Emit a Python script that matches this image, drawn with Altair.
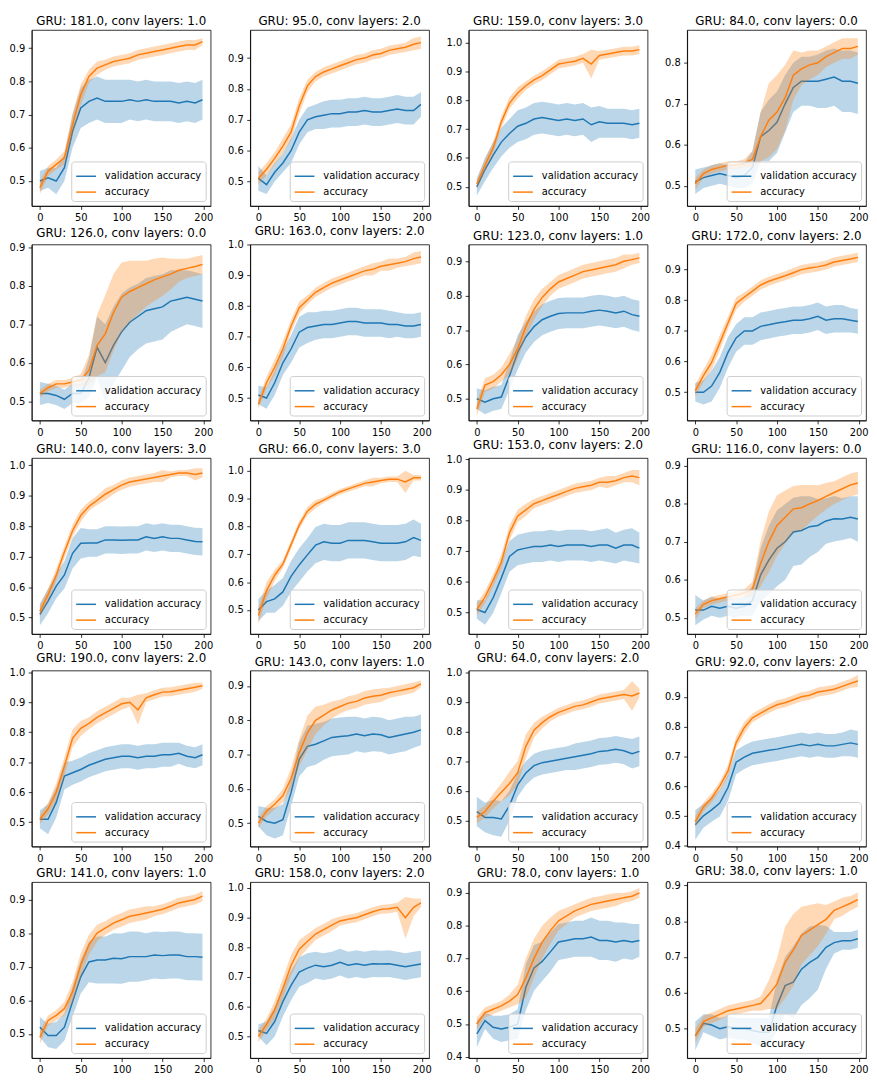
import altair as alt
import pandas as pd

EPOCHS = [0, 10, 20, 30, 40, 50, 60, 70, 80, 90, 100, 110, 120, 130, 140, 150, 160, 170, 180, 190, 199]
SERIES = ["validation accuracy", "accuracy"]
COLORS = ["#1f77b4", "#ff7f0e"]
X_TICKS = [0, 50, 100, 150, 200]

TITLES = [
    "GRU: 181.0, conv layers: 1.0", "GRU: 95.0, conv layers: 2.0", "GRU: 159.0, conv layers: 3.0", "GRU: 84.0, conv layers: 0.0",
    "GRU: 126.0, conv layers: 0.0", "GRU: 163.0, conv layers: 2.0", "GRU: 123.0, conv layers: 1.0", "GRU: 172.0, conv layers: 2.0",
    "GRU: 140.0, conv layers: 3.0", "GRU: 66.0, conv layers: 3.0", "GRU: 153.0, conv layers: 2.0", "GRU: 116.0, conv layers: 0.0",
    "GRU: 190.0, conv layers: 2.0", "GRU: 143.0, conv layers: 1.0", "GRU: 64.0, conv layers: 2.0", "GRU: 92.0, conv layers: 2.0",
    "GRU: 141.0, conv layers: 1.0", "GRU: 158.0, conv layers: 2.0", "GRU: 78.0, conv layers: 1.0", "GRU: 38.0, conv layers: 1.0",
]

Y_DOMAINS = [
    [0.425, 0.955], [0.421, 0.991], [0.434, 1.043], [0.451, 0.880],
    [0.450, 0.907], [0.427, 1.001], [0.437, 0.949], [0.408, 0.982],
    [0.446, 1.024], [0.414, 1.046], [0.430, 1.004], [0.457, 0.921],
    [0.419, 1.006], [0.432, 0.945], [0.412, 1.006], [0.397, 0.988],
    [0.428, 0.952], [0.427, 1.020], [0.396, 0.933], [0.418, 0.909],
]

# ---- panel 1: GRU 181, conv 1
P1_VAL = [0.50, 0.51, 0.50, 0.54, 0.65, 0.72, 0.74, 0.75, 0.74, 0.74, 0.74, 0.745, 0.74, 0.745, 0.74, 0.74, 0.74, 0.735, 0.74, 0.735, 0.745]
P1_VAL_SD = [0.03, 0.03, 0.04, 0.04, 0.05, 0.06, 0.065, 0.065, 0.065, 0.065, 0.065, 0.06, 0.06, 0.06, 0.06, 0.06, 0.06, 0.06, 0.06, 0.06, 0.06]
P1_ACC = [0.48, 0.53, 0.55, 0.57, 0.67, 0.76, 0.815, 0.84, 0.85, 0.86, 0.865, 0.87, 0.88, 0.885, 0.89, 0.895, 0.90, 0.905, 0.91, 0.91, 0.92]
P1_ACC_SD = [0.02, 0.015, 0.015, 0.02, 0.035, 0.03, 0.02, 0.02, 0.015, 0.015, 0.015, 0.015, 0.015, 0.015, 0.015, 0.015, 0.015, 0.015, 0.015, 0.015, 0.01]
# ---- panel 2: GRU 95, conv 2
P2_VAL = [0.51, 0.49, 0.53, 0.56, 0.60, 0.66, 0.70, 0.71, 0.715, 0.72, 0.72, 0.725, 0.725, 0.73, 0.725, 0.725, 0.73, 0.735, 0.73, 0.73, 0.75]
P2_VAL_SD = [0.04, 0.03, 0.03, 0.03, 0.04, 0.04, 0.04, 0.04, 0.045, 0.045, 0.045, 0.045, 0.045, 0.045, 0.045, 0.045, 0.045, 0.045, 0.045, 0.045, 0.04]
P2_ACC = [0.51, 0.54, 0.575, 0.615, 0.66, 0.745, 0.81, 0.84, 0.855, 0.865, 0.875, 0.885, 0.895, 0.90, 0.91, 0.915, 0.925, 0.93, 0.935, 0.945, 0.95]
P2_ACC_SD = [0.02, 0.02, 0.02, 0.025, 0.025, 0.025, 0.02, 0.015, 0.015, 0.015, 0.015, 0.015, 0.015, 0.015, 0.015, 0.015, 0.015, 0.015, 0.015, 0.02, 0.02]
# ---- panel 3: GRU 159, conv 3
P3_VAL = [0.50, 0.56, 0.61, 0.655, 0.685, 0.71, 0.72, 0.735, 0.74, 0.735, 0.73, 0.735, 0.73, 0.735, 0.715, 0.725, 0.72, 0.72, 0.72, 0.715, 0.72]
P3_VAL_SD = [0.03, 0.04, 0.045, 0.05, 0.05, 0.055, 0.055, 0.055, 0.055, 0.055, 0.055, 0.055, 0.055, 0.055, 0.06, 0.055, 0.05, 0.05, 0.05, 0.05, 0.05]
P3_ACC = [0.51, 0.575, 0.635, 0.725, 0.79, 0.825, 0.85, 0.87, 0.885, 0.905, 0.925, 0.93, 0.935, 0.945, 0.925, 0.955, 0.96, 0.965, 0.97, 0.97, 0.975]
P3_ACC_SD = [0.015, 0.02, 0.02, 0.02, 0.02, 0.02, 0.015, 0.015, 0.015, 0.015, 0.015, 0.015, 0.015, 0.015, 0.05, 0.015, 0.015, 0.015, 0.015, 0.015, 0.015]
# ---- panel 4: GRU 84, conv 0
P4_VAL = [0.51, 0.52, 0.525, 0.53, 0.525, 0.52, 0.525, 0.545, 0.62, 0.635, 0.655, 0.70, 0.74, 0.755, 0.755, 0.755, 0.76, 0.765, 0.755, 0.755, 0.75]
P4_VAL_SD = [0.03, 0.025, 0.025, 0.025, 0.025, 0.025, 0.03, 0.04, 0.06, 0.075, 0.075, 0.07, 0.06, 0.06, 0.06, 0.065, 0.07, 0.07, 0.075, 0.075, 0.075]
P4_ACC = [0.505, 0.53, 0.54, 0.545, 0.55, 0.55, 0.555, 0.565, 0.62, 0.66, 0.68, 0.715, 0.77, 0.785, 0.795, 0.80, 0.815, 0.825, 0.835, 0.835, 0.84]
P4_ACC_SD = [0.015, 0.01, 0.01, 0.01, 0.01, 0.01, 0.01, 0.02, 0.06, 0.09, 0.09, 0.08, 0.06, 0.04, 0.035, 0.03, 0.025, 0.025, 0.025, 0.025, 0.02]
# ---- panel 5: GRU 126, conv 0
P5_VAL = [0.52, 0.52, 0.515, 0.505, 0.52, 0.52, 0.56, 0.64, 0.60, 0.645, 0.68, 0.705, 0.72, 0.735, 0.74, 0.745, 0.76, 0.765, 0.77, 0.765, 0.76]
P5_VAL_SD = [0.03, 0.025, 0.025, 0.025, 0.025, 0.025, 0.05, 0.08, 0.1, 0.1, 0.1, 0.09, 0.085, 0.085, 0.085, 0.085, 0.08, 0.075, 0.07, 0.07, 0.07]
P5_ACC = [0.52, 0.535, 0.545, 0.545, 0.55, 0.555, 0.58, 0.645, 0.675, 0.73, 0.77, 0.785, 0.795, 0.805, 0.815, 0.823, 0.83, 0.84, 0.845, 0.85, 0.855]
P5_ACC_SD = [0.01, 0.01, 0.01, 0.01, 0.01, 0.015, 0.04, 0.08, 0.1, 0.1, 0.09, 0.08, 0.07, 0.06, 0.055, 0.05, 0.04, 0.03, 0.025, 0.025, 0.025]
# ---- panel 6: GRU 163, conv 2
P6_VAL = [0.51, 0.50, 0.55, 0.615, 0.66, 0.715, 0.73, 0.735, 0.74, 0.74, 0.745, 0.75, 0.75, 0.745, 0.745, 0.745, 0.74, 0.74, 0.735, 0.735, 0.74]
P6_VAL_SD = [0.03, 0.035, 0.04, 0.04, 0.045, 0.05, 0.05, 0.045, 0.045, 0.045, 0.045, 0.045, 0.045, 0.045, 0.045, 0.045, 0.045, 0.04, 0.04, 0.04, 0.04]
P6_ACC = [0.48, 0.55, 0.60, 0.66, 0.735, 0.795, 0.82, 0.845, 0.86, 0.875, 0.885, 0.895, 0.905, 0.915, 0.92, 0.93, 0.935, 0.94, 0.945, 0.955, 0.96]
P6_ACC_SD = [0.015, 0.02, 0.025, 0.025, 0.02, 0.02, 0.015, 0.015, 0.015, 0.015, 0.015, 0.015, 0.015, 0.015, 0.02, 0.015, 0.02, 0.015, 0.015, 0.02, 0.02]
# ---- panel 7: GRU 123, conv 1
P7_VAL = [0.50, 0.49, 0.50, 0.505, 0.567, 0.635, 0.68, 0.71, 0.73, 0.74, 0.748, 0.75, 0.75, 0.75, 0.755, 0.758, 0.755, 0.75, 0.755, 0.745, 0.74]
P7_VAL_SD = [0.03, 0.035, 0.035, 0.035, 0.04, 0.05, 0.045, 0.045, 0.045, 0.045, 0.045, 0.045, 0.045, 0.045, 0.045, 0.045, 0.045, 0.045, 0.045, 0.045, 0.045]
P7_ACC = [0.47, 0.54, 0.55, 0.57, 0.60, 0.645, 0.71, 0.76, 0.795, 0.82, 0.84, 0.85, 0.86, 0.87, 0.875, 0.88, 0.885, 0.89, 0.90, 0.905, 0.91]
P7_ACC_SD = [0.02, 0.02, 0.02, 0.02, 0.03, 0.03, 0.03, 0.03, 0.025, 0.02, 0.02, 0.02, 0.02, 0.02, 0.02, 0.02, 0.02, 0.02, 0.02, 0.015, 0.015]
# ---- panel 8: GRU 172, conv 2
P8_VAL = [0.50, 0.50, 0.52, 0.565, 0.63, 0.677, 0.70, 0.70, 0.715, 0.72, 0.726, 0.73, 0.735, 0.735, 0.74, 0.748, 0.735, 0.74, 0.74, 0.735, 0.731]
P8_VAL_SD = [0.03, 0.04, 0.05, 0.05, 0.05, 0.045, 0.045, 0.045, 0.045, 0.045, 0.045, 0.045, 0.045, 0.045, 0.045, 0.045, 0.045, 0.045, 0.045, 0.04, 0.04]
P8_ACC = [0.505, 0.554, 0.597, 0.661, 0.726, 0.79, 0.81, 0.83, 0.85, 0.862, 0.871, 0.88, 0.89, 0.90, 0.905, 0.909, 0.915, 0.925, 0.93, 0.935, 0.94]
P8_ACC_SD = [0.02, 0.02, 0.025, 0.025, 0.02, 0.02, 0.015, 0.015, 0.015, 0.015, 0.015, 0.015, 0.015, 0.015, 0.015, 0.015, 0.015, 0.015, 0.015, 0.015, 0.015]
# ---- panel 9: GRU 140, conv 3
P9_VAL = [0.51, 0.554, 0.603, 0.64, 0.711, 0.744, 0.745, 0.745, 0.755, 0.755, 0.754, 0.755, 0.755, 0.765, 0.76, 0.765, 0.76, 0.76, 0.755, 0.75, 0.749]
P9_VAL_SD = [0.035, 0.04, 0.04, 0.045, 0.05, 0.05, 0.045, 0.045, 0.045, 0.045, 0.045, 0.045, 0.045, 0.045, 0.045, 0.045, 0.045, 0.045, 0.045, 0.045, 0.045]
P9_ACC = [0.52, 0.575, 0.64, 0.715, 0.785, 0.835, 0.865, 0.885, 0.905, 0.92, 0.935, 0.945, 0.95, 0.955, 0.96, 0.965, 0.97, 0.975, 0.975, 0.97, 0.975]
P9_ACC_SD = [0.02, 0.02, 0.02, 0.02, 0.02, 0.02, 0.015, 0.015, 0.02, 0.015, 0.015, 0.015, 0.015, 0.015, 0.015, 0.02, 0.01, 0.01, 0.01, 0.02, 0.015]
# ---- panel 10: GRU 66, conv 3
P10_VAL = [0.50, 0.53, 0.54, 0.565, 0.621, 0.662, 0.698, 0.733, 0.745, 0.74, 0.74, 0.75, 0.75, 0.75, 0.745, 0.74, 0.74, 0.74, 0.745, 0.76, 0.75]
P10_VAL_SD = [0.04, 0.04, 0.05, 0.05, 0.055, 0.06, 0.06, 0.065, 0.065, 0.065, 0.065, 0.065, 0.065, 0.065, 0.065, 0.065, 0.065, 0.065, 0.065, 0.065, 0.06]
P10_ACC = [0.48, 0.57, 0.625, 0.665, 0.735, 0.805, 0.855, 0.88, 0.895, 0.91, 0.925, 0.935, 0.945, 0.955, 0.96, 0.965, 0.97, 0.97, 0.96, 0.975, 0.975]
P10_ACC_SD = [0.03, 0.03, 0.02, 0.015, 0.015, 0.015, 0.015, 0.015, 0.01, 0.01, 0.01, 0.01, 0.01, 0.01, 0.015, 0.01, 0.01, 0.01, 0.04, 0.01, 0.01]
# ---- panel 11: GRU 153, conv 2
P11_VAL = [0.51, 0.50, 0.548, 0.613, 0.683, 0.704, 0.71, 0.715, 0.715, 0.72, 0.715, 0.72, 0.72, 0.72, 0.715, 0.72, 0.72, 0.71, 0.72, 0.72, 0.71]
P11_VAL_SD = [0.03, 0.04, 0.05, 0.05, 0.05, 0.05, 0.05, 0.05, 0.05, 0.05, 0.05, 0.05, 0.05, 0.05, 0.05, 0.05, 0.055, 0.05, 0.05, 0.055, 0.05]
P11_ACC = [0.51, 0.55, 0.605, 0.665, 0.76, 0.815, 0.835, 0.855, 0.865, 0.875, 0.885, 0.895, 0.905, 0.91, 0.915, 0.925, 0.925, 0.93, 0.94, 0.945, 0.94]
P11_ACC_SD = [0.02, 0.02, 0.02, 0.025, 0.025, 0.02, 0.02, 0.015, 0.015, 0.015, 0.015, 0.015, 0.015, 0.015, 0.015, 0.015, 0.02, 0.015, 0.015, 0.02, 0.025]
# ---- panel 12: GRU 116, conv 0
P12_VAL = [0.52, 0.52, 0.53, 0.525, 0.53, 0.525, 0.53, 0.545, 0.613, 0.652, 0.683, 0.70, 0.726, 0.73, 0.74, 0.743, 0.755, 0.761, 0.76, 0.765, 0.76]
P12_VAL_SD = [0.04, 0.025, 0.025, 0.025, 0.025, 0.025, 0.025, 0.04, 0.07, 0.09, 0.1, 0.1, 0.09, 0.09, 0.08, 0.07, 0.06, 0.06, 0.055, 0.055, 0.06]
P12_ACC = [0.51, 0.535, 0.545, 0.55, 0.555, 0.56, 0.565, 0.575, 0.643, 0.70, 0.743, 0.765, 0.787, 0.79, 0.80, 0.809, 0.82, 0.83, 0.84, 0.85, 0.855]
P12_ACC_SD = [0.015, 0.01, 0.01, 0.01, 0.01, 0.01, 0.01, 0.02, 0.06, 0.08, 0.08, 0.07, 0.06, 0.06, 0.05, 0.04, 0.035, 0.03, 0.03, 0.03, 0.03]
# ---- panel 13: GRU 190, conv 2
P13_VAL = [0.51, 0.51, 0.566, 0.654, 0.665, 0.676, 0.69, 0.70, 0.71, 0.715, 0.72, 0.72, 0.715, 0.72, 0.72, 0.725, 0.725, 0.73, 0.72, 0.715, 0.725]
P13_VAL_SD = [0.03, 0.05, 0.05, 0.045, 0.04, 0.04, 0.04, 0.04, 0.04, 0.04, 0.04, 0.04, 0.04, 0.04, 0.04, 0.04, 0.04, 0.035, 0.035, 0.035, 0.035]
P13_ACC = [0.51, 0.545, 0.60, 0.687, 0.78, 0.813, 0.83, 0.85, 0.865, 0.88, 0.895, 0.90, 0.875, 0.915, 0.925, 0.934, 0.935, 0.94, 0.945, 0.95, 0.955]
P13_ACC_SD = [0.015, 0.02, 0.03, 0.03, 0.03, 0.025, 0.02, 0.02, 0.02, 0.02, 0.02, 0.015, 0.05, 0.015, 0.015, 0.015, 0.015, 0.015, 0.015, 0.015, 0.01]
# ---- panel 14: GRU 143, conv 1
P14_VAL = [0.52, 0.505, 0.50, 0.51, 0.589, 0.686, 0.724, 0.73, 0.74, 0.75, 0.753, 0.755, 0.76, 0.755, 0.76, 0.758, 0.75, 0.755, 0.76, 0.765, 0.772]
P14_VAL_SD = [0.03, 0.04, 0.045, 0.045, 0.04, 0.05, 0.06, 0.06, 0.055, 0.055, 0.055, 0.055, 0.05, 0.05, 0.05, 0.05, 0.05, 0.05, 0.05, 0.045, 0.045]
P14_ACC = [0.50, 0.535, 0.555, 0.58, 0.63, 0.705, 0.763, 0.80, 0.815, 0.83, 0.84, 0.85, 0.855, 0.865, 0.87, 0.873, 0.88, 0.885, 0.89, 0.895, 0.906]
P14_ACC_SD = [0.015, 0.015, 0.015, 0.02, 0.03, 0.04, 0.05, 0.04, 0.03, 0.025, 0.02, 0.02, 0.02, 0.02, 0.02, 0.02, 0.015, 0.015, 0.015, 0.015, 0.01]
# ---- panel 15: GRU 64, conv 2
P15_VAL = [0.53, 0.51, 0.51, 0.505, 0.55, 0.62, 0.66, 0.685, 0.695, 0.70, 0.705, 0.71, 0.715, 0.72, 0.725, 0.733, 0.735, 0.74, 0.735, 0.725, 0.733]
P15_VAL_SD = [0.05, 0.05, 0.06, 0.06, 0.05, 0.04, 0.04, 0.04, 0.04, 0.04, 0.04, 0.04, 0.045, 0.045, 0.045, 0.045, 0.045, 0.045, 0.045, 0.05, 0.05]
P15_ACC = [0.51, 0.53, 0.565, 0.595, 0.625, 0.661, 0.75, 0.805, 0.83, 0.85, 0.865, 0.875, 0.885, 0.89, 0.90, 0.91, 0.915, 0.92, 0.925, 0.92, 0.93]
P15_ACC_SD = [0.02, 0.02, 0.025, 0.03, 0.04, 0.04, 0.04, 0.025, 0.02, 0.015, 0.015, 0.015, 0.015, 0.015, 0.015, 0.015, 0.015, 0.015, 0.015, 0.05, 0.015]
# ---- panel 16: GRU 92, conv 2
P16_VAL = [0.47, 0.50, 0.52, 0.543, 0.595, 0.68, 0.697, 0.71, 0.715, 0.72, 0.724, 0.73, 0.735, 0.74, 0.735, 0.74, 0.735, 0.735, 0.74, 0.745, 0.74]
P16_VAL_SD = [0.05, 0.04, 0.04, 0.045, 0.045, 0.04, 0.04, 0.04, 0.04, 0.04, 0.04, 0.04, 0.04, 0.04, 0.04, 0.04, 0.04, 0.04, 0.04, 0.045, 0.045]
P16_ACC = [0.48, 0.53, 0.56, 0.60, 0.65, 0.746, 0.796, 0.829, 0.845, 0.86, 0.873, 0.88, 0.89, 0.90, 0.905, 0.916, 0.92, 0.925, 0.935, 0.945, 0.953]
P16_ACC_SD = [0.02, 0.015, 0.015, 0.015, 0.02, 0.02, 0.02, 0.015, 0.015, 0.015, 0.015, 0.015, 0.015, 0.015, 0.015, 0.015, 0.015, 0.015, 0.015, 0.015, 0.02]
# ---- panel 17: GRU 141, conv 1
P17_VAL = [0.52, 0.495, 0.495, 0.52, 0.596, 0.67, 0.714, 0.72, 0.72, 0.725, 0.724, 0.73, 0.73, 0.73, 0.735, 0.733, 0.735, 0.735, 0.73, 0.73, 0.728]
P17_VAL_SD = [0.03, 0.035, 0.04, 0.04, 0.045, 0.05, 0.06, 0.07, 0.07, 0.075, 0.075, 0.075, 0.075, 0.07, 0.07, 0.07, 0.07, 0.07, 0.07, 0.07, 0.07]
P17_ACC = [0.49, 0.54, 0.555, 0.575, 0.625, 0.705, 0.765, 0.80, 0.815, 0.83, 0.84, 0.85, 0.855, 0.86, 0.865, 0.871, 0.88, 0.89, 0.895, 0.90, 0.91]
P17_ACC_SD = [0.02, 0.015, 0.015, 0.02, 0.03, 0.035, 0.03, 0.025, 0.02, 0.02, 0.02, 0.02, 0.02, 0.02, 0.015, 0.015, 0.015, 0.015, 0.015, 0.015, 0.015]
# ---- panel 18: GRU 158, conv 2
P18_VAL = [0.52, 0.51, 0.55, 0.617, 0.672, 0.717, 0.73, 0.74, 0.735, 0.74, 0.75, 0.74, 0.745, 0.74, 0.745, 0.744, 0.745, 0.74, 0.735, 0.74, 0.744]
P18_VAL_SD = [0.02, 0.04, 0.05, 0.05, 0.05, 0.05, 0.05, 0.045, 0.045, 0.045, 0.045, 0.045, 0.045, 0.045, 0.045, 0.045, 0.045, 0.045, 0.045, 0.045, 0.045]
P18_ACC = [0.50, 0.54, 0.589, 0.661, 0.739, 0.794, 0.82, 0.845, 0.86, 0.875, 0.889, 0.895, 0.90, 0.91, 0.92, 0.928, 0.93, 0.935, 0.90, 0.935, 0.95]
P18_ACC_SD = [0.02, 0.02, 0.03, 0.035, 0.035, 0.03, 0.025, 0.02, 0.02, 0.02, 0.015, 0.015, 0.015, 0.015, 0.015, 0.015, 0.015, 0.015, 0.07, 0.03, 0.015]
# ---- panel 19: GRU 78, conv 1
P19_VAL = [0.47, 0.51, 0.49, 0.485, 0.49, 0.50, 0.612, 0.671, 0.691, 0.72, 0.75, 0.755, 0.76, 0.76, 0.765, 0.755, 0.755, 0.75, 0.755, 0.75, 0.755]
P19_VAL_SD = [0.04, 0.025, 0.035, 0.04, 0.04, 0.045, 0.07, 0.07, 0.06, 0.06, 0.055, 0.055, 0.055, 0.055, 0.06, 0.06, 0.06, 0.06, 0.055, 0.055, 0.05]
P19_ACC = [0.50, 0.535, 0.545, 0.555, 0.57, 0.59, 0.64, 0.70, 0.75, 0.785, 0.815, 0.83, 0.845, 0.855, 0.865, 0.87, 0.875, 0.88, 0.885, 0.89, 0.90]
P19_ACC_SD = [0.02, 0.015, 0.015, 0.015, 0.02, 0.03, 0.06, 0.06, 0.05, 0.04, 0.03, 0.025, 0.02, 0.02, 0.02, 0.02, 0.02, 0.02, 0.015, 0.015, 0.015]
# ---- panel 20: GRU 38, conv 1
P20_VAL = [0.48, 0.515, 0.51, 0.50, 0.505, 0.50, 0.50, 0.495, 0.49, 0.49, 0.565, 0.62, 0.63, 0.666, 0.685, 0.699, 0.727, 0.74, 0.745, 0.745, 0.751]
P20_VAL_SD = [0.04, 0.025, 0.03, 0.03, 0.03, 0.03, 0.03, 0.035, 0.04, 0.04, 0.07, 0.08, 0.1, 0.1, 0.1, 0.09, 0.06, 0.03, 0.025, 0.025, 0.025]
P20_ACC = [0.48, 0.52, 0.53, 0.54, 0.55, 0.555, 0.56, 0.565, 0.57, 0.595, 0.625, 0.685, 0.72, 0.76, 0.775, 0.79, 0.805, 0.83, 0.84, 0.85, 0.86]
P20_ACC_SD = [0.02, 0.015, 0.015, 0.015, 0.015, 0.015, 0.015, 0.015, 0.02, 0.04, 0.07, 0.1, 0.1, 0.08, 0.07, 0.06, 0.04, 0.025, 0.025, 0.02, 0.02]

PANEL_DATA = [
    (P1_VAL, P1_VAL_SD, P1_ACC, P1_ACC_SD), (P2_VAL, P2_VAL_SD, P2_ACC, P2_ACC_SD),
    (P3_VAL, P3_VAL_SD, P3_ACC, P3_ACC_SD), (P4_VAL, P4_VAL_SD, P4_ACC, P4_ACC_SD),
    (P5_VAL, P5_VAL_SD, P5_ACC, P5_ACC_SD), (P6_VAL, P6_VAL_SD, P6_ACC, P6_ACC_SD),
    (P7_VAL, P7_VAL_SD, P7_ACC, P7_ACC_SD), (P8_VAL, P8_VAL_SD, P8_ACC, P8_ACC_SD),
    (P9_VAL, P9_VAL_SD, P9_ACC, P9_ACC_SD), (P10_VAL, P10_VAL_SD, P10_ACC, P10_ACC_SD),
    (P11_VAL, P11_VAL_SD, P11_ACC, P11_ACC_SD), (P12_VAL, P12_VAL_SD, P12_ACC, P12_ACC_SD),
    (P13_VAL, P13_VAL_SD, P13_ACC, P13_ACC_SD), (P14_VAL, P14_VAL_SD, P14_ACC, P14_ACC_SD),
    (P15_VAL, P15_VAL_SD, P15_ACC, P15_ACC_SD), (P16_VAL, P16_VAL_SD, P16_ACC, P16_ACC_SD),
    (P17_VAL, P17_VAL_SD, P17_ACC, P17_ACC_SD), (P18_VAL, P18_VAL_SD, P18_ACC, P18_ACC_SD),
    (P19_VAL, P19_VAL_SD, P19_ACC, P19_ACC_SD), (P20_VAL, P20_VAL_SD, P20_ACC, P20_ACC_SD),
]

PANEL_W = 181
PANEL_H = 178


def make_panel(title, dom, val, val_sd, acc, acc_sd):
    rows = []
    for name, means, sds in ((SERIES[0], val, val_sd), (SERIES[1], acc, acc_sd)):
        for e, m, s in zip(EPOCHS, means, sds):
            rows.append({"epoch": e, "series": name, "mean": m, "lo": m - s, "hi": m + s})
    df = pd.DataFrame(rows)

    y_ticks = [t / 10 for t in range(0, 11) if dom[0] <= t / 10 <= dom[1] + 1e-9]
    xscale = alt.Scale(domain=[-10, 209], nice=False, zero=False)
    yscale = alt.Scale(domain=dom, nice=False, zero=False)
    x = alt.X("epoch:Q", scale=xscale, axis=alt.Axis(values=X_TICKS, title=None, format="d"))
    y_axis = alt.Axis(values=y_ticks, format=".1f", title=None)

    color = alt.Color(
        "series:N",
        scale=alt.Scale(domain=SERIES, range=COLORS),
        legend=alt.Legend(
            orient="bottom-right", title=None, symbolType="stroke",
            symbolStrokeWidth=1.5, symbolSize=400, labelFontSize=10,
            labelFont="DejaVu Sans", labelColor="black", padding=4, offset=5,
            strokeColor="#cccccc", fillColor="rgba(255,255,255,0.8)",
            cornerRadius=3, rowPadding=0, labelOffset=8, symbolOffset=0,
        ),
    )

    base = alt.Chart(df)
    layers = []
    for name, col in zip(SERIES, COLORS):
        sub = base.transform_filter(alt.datum.series == name)
        band = sub.mark_area(opacity=0.3, clip=True, color=col).encode(
            x=x, y=alt.Y("lo:Q", scale=yscale, axis=y_axis), y2="hi:Q"
        )
        line = sub.mark_line(strokeWidth=1.5, clip=True).encode(
            x=x, y=alt.Y("mean:Q", scale=yscale, axis=y_axis), color=color
        )
        layers += [band, line]
    return alt.layer(*layers).properties(
        width=PANEL_W, height=PANEL_H, title=alt.TitleParams(title)
    )


panels = [make_panel(t, d, *pd_) for t, d, pd_ in zip(TITLES, Y_DOMAINS, PANEL_DATA)]

rows = []
for r in range(5):
    row = alt.hconcat(*panels[r * 4:(r + 1) * 4], spacing=13).resolve_scale(
        x="independent", y="independent", color="independent"
    ).resolve_legend(color="independent")
    rows.append(row)

chart = alt.vconcat(*rows, spacing=0).resolve_scale(
    x="independent", y="independent", color="independent"
).resolve_legend(color="independent").properties(
    padding={"left": 0, "top": 0, "right": 0, "bottom": 0}
).configure_view(
    stroke="black", strokeWidth=0.8
).configure_axis(
    labelFont="DejaVu Sans", labelFontSize=10, labelColor="black",
    tickColor="black", domainColor="black", tickSize=3.5, tickWidth=0.8,
    domainWidth=0.8, labelPadding=3.5, grid=False,
).configure_title(
    font="DejaVu Sans", fontSize=12, fontWeight="normal", color="black",
    offset=2, anchor="middle",
)

chart.save("out.html", embed_options={"renderer": "svg", "actions": False})
